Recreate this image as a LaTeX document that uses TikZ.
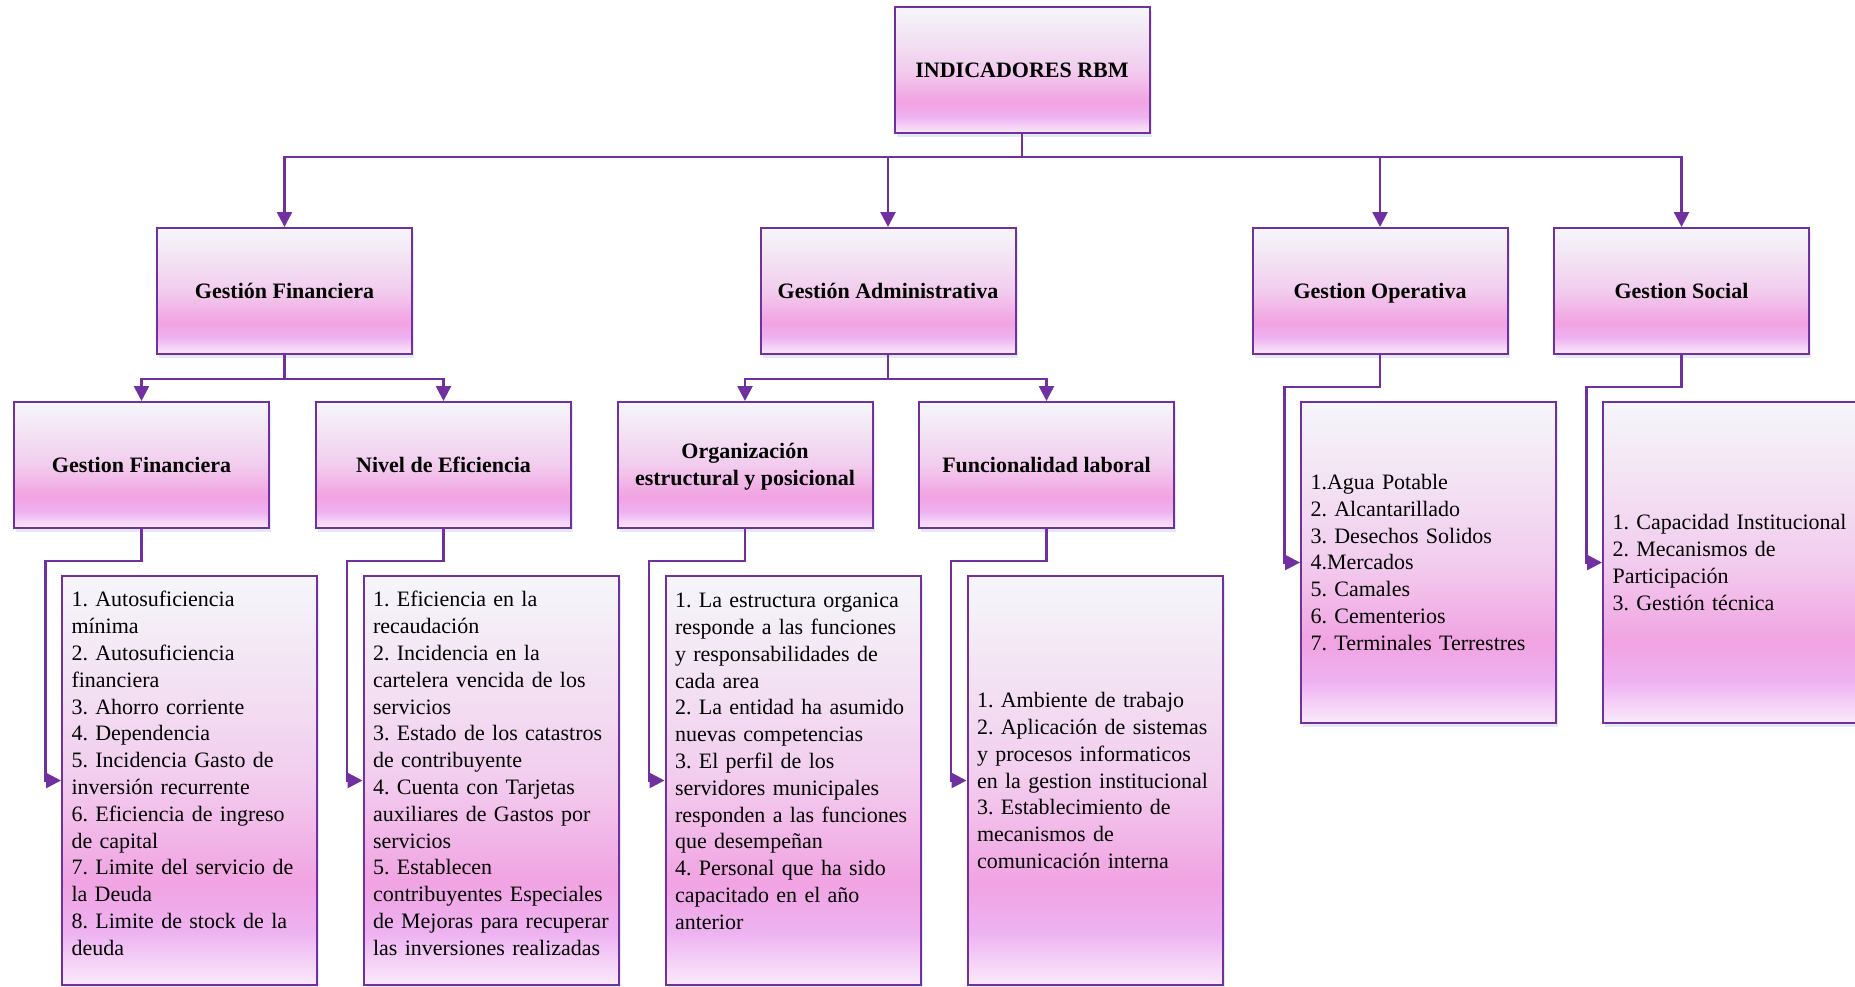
\documentclass[tikz,border=0pt]{standalone}
\usepackage{fontspec}
\setmainfont{Liberation Serif}
\usetikzlibrary{arrows.meta,shadows}
\definecolor{rbm-line}{HTML}{7030A0}
\definecolor{rbm-top}{HTML}{F5F6FA}
\definecolor{rbm-light}{HTML}{F3E2F3}
\definecolor{rbm-mid}{HTML}{F2CCEE}
\definecolor{rbm-pink}{HTML}{F1A3E2}
\definecolor{rbm-lilac}{HTML}{EEB2F1}
\definecolor{rbm-bot}{HTML}{FAEAFA}
\definecolor{rbm-shadow}{HTML}{E3EAF3}
\pgfdeclareverticalshading{rbmshade}{100bp}{color(0bp)=(rbm-bot); color(25bp)=(rbm-bot); color(31.5bp)=(rbm-lilac); color(37.5bp)=(rbm-pink); color(50bp)=(rbm-mid); color(62.5bp)=(rbm-light); color(75bp)=(rbm-top); color(100bp)=(rbm-top)}
\hyphenpenalty=10000

\tikzset{
  headbox/.style={draw=rbm-line, line width=1pt, shading=rbmshade, minimum width=127.5pt, minimum height=63pt,
    align=center, font=\fontsize{11}{13.4}\selectfont\frenchspacing\bfseries, text height=8.7pt, text depth=1.3pt,
    drop shadow={shadow xshift=1.2pt, shadow yshift=-1.8pt, fill=rbm-shadow, opacity=1}},
  itembox/.style={headbox, font=\fontsize{11}{13.4}\selectfont\frenchspacing, align=left, text width=118pt,
    inner xsep=4.75pt, minimum height=204.5pt, text height={}, text depth={}}
}

\begin{document}
\begin{tikzpicture}[x=0.5pt, y=-0.5pt, ->, >={Triangle[length=7.5pt, width=7.5pt]}, draw=rbm-line, line width=1.3pt]
        \useasboundingbox (0,0) rectangle (1855,986);
        \clip (0,0) rectangle (1855,986);

        \node[headbox] (r0) at (1022,70) {INDICADORES RBM};
        \node[headbox] (a1) at (284.5,291) {Gestión Financiera};
        \node[headbox] (a2) at (888,291) {Gestión Administrativa};
        \node[headbox] (a3) at (1380,291) {Gestion Operativa};
        \node[headbox] (a4) at (1681.5,291) {Gestion Social};

        \node[headbox] (b1) at (141.5,465) {Gestion Financiera};
        \node[headbox] (b2) at (443.5,465) {Nivel de Eficiencia};
        \node[headbox, text height=22.7pt, text depth={}] (b3) at (745,465) {Organización\\ estructural y posicional};
        \node[headbox] (b4) at (1046.5,465) {Funcionalidad laboral};

        \node[itembox, text depth=181.4pt] (c1) at (189.5,780.5) {1. Autosuficiencia\\ mínima\\ 2. Autosuficiencia\\ financiera\\
          3. Ahorro corriente\\ 4. Dependencia\\ 5. Incidencia Gasto de\\ inversión recurrente\\
          6. Eficiencia de ingreso\\ de capital\\ 7. Limite del servicio de\\ la Deuda\\
          8. Limite de stock de la\\ deuda};
        \node[itembox, text depth=181.4pt] (c2) at (491,780.5) {1. Eficiencia en la\\ recaudación\\ 2. Incidencia en la\\
          cartelera vencida de los\\ servicios\\ 3. Estado de los catastros\\ de contribuyente\\
          4. Cuenta con Tarjetas\\ auxiliares de Gastos por\\ servicios\\ 5. Establecen\\
          contribuyentes Especiales\\ de Mejoras para recuperar\\ las inversiones realizadas};
        \node[itembox, text depth=180pt] (c3) at (793,780.5) {1. La estructura organica\\ responde a las funciones\\
          y responsabilidades de\\ cada area\\ 2. La entidad ha asumido\\ nuevas competencias\\
          3. El perfil de los\\ servidores municipales\\ responden a las funciones\\ que desempeñan\\
          4. Personal que ha sido\\ capacitado en el año\\ anterior};
        \node[itembox] (c4) at (1095,780.5) {1. Ambiente de trabajo\\ 2. Aplicación de sistemas\\
          y procesos informaticos\\ en la gestion institucional\\ 3. Establecimiento de\\
          mecanismos de\\ comunicación interna};
        \node[itembox, minimum height=160.5pt] (c5) at (1428.5,562.5) {1.Agua Potable\\ 2. Alcantarillado\\
          3. Desechos Solidos\\ 4.Mercados\\ 5. Camales\\ 6. Cementerios\\ 7. Terminales Terrestres};
        \node[itembox, minimum height=160.5pt] (c6) at (1730.5,562.5) {1. Capacidad Institucional\\
          2. Mecanismos de\\ Participación\\ 3. Gestión técnica};

        \coordinate (bus) at (1022,157);
        \foreach \n in {a1,a2,a3,a4}
          \draw (r0) -- (bus) -| (\n);
        \foreach \p/\c in {a1/b1, a1/b2, a2/b3, a2/b4}
          \draw (\p.south) -- ++(0,24) -| (\c);
        \foreach \p/\c in {b1/c1, b2/c2, b3/c3, b4/c4, a3/c5, a4/c6}
          \draw (\p.south) -- ++(0,32) -| ([xshift=-7.75pt]\c.west) -- (\c.west);
      \end{tikzpicture}
\end{document}
